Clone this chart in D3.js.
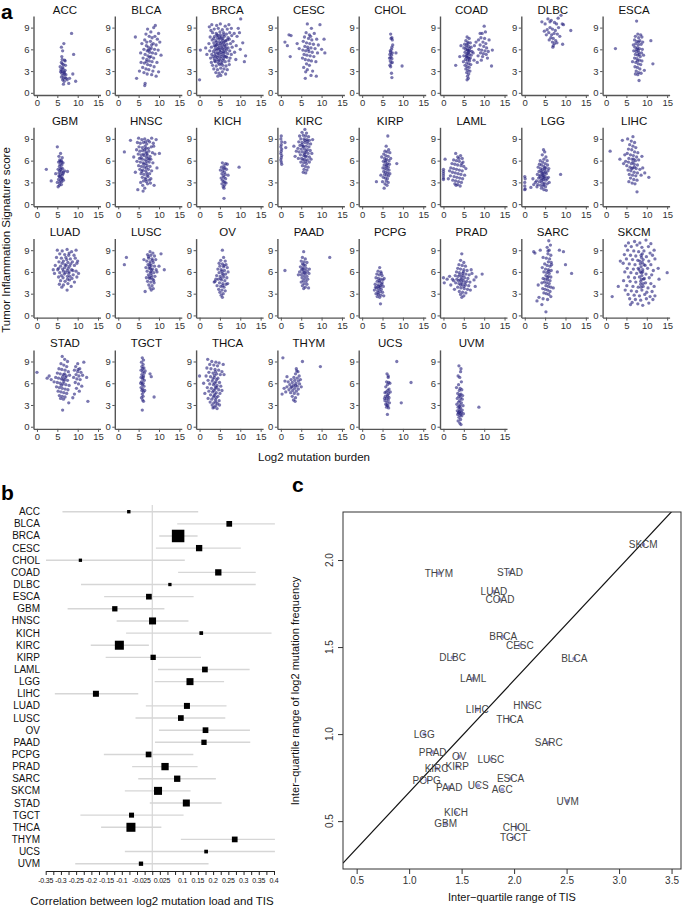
<!DOCTYPE html>
<html><head><meta charset="utf-8">
<script src="https://cdn.jsdelivr.net/npm/d3@7"></script>
<style>body{margin:0;background:#fff}svg{display:block}text{font-family:"Liberation Sans",Arial,Helvetica,sans-serif}</style>
</head><body><svg id="chart" width="685" height="909"></svg>
<script>
// ---------- DATA ----------
const cancers = ["ACC","BLCA","BRCA","CESC","CHOL","COAD","DLBC","ESCA","GBM","HNSC","KICH","KIRC","KIRP","LAML","LGG","LIHC","LUAD","LUSC","OV","PAAD","PCPG","PRAD","SARC","SKCM","STAD","TGCT","THCA","THYM","UCS","UVM"];
const aXTicks = [0,5,10,15];
const aYTicks = [0,3,6,9];

// panel a: [log2 mutation burden, TIS]
const ptsACC=[[6.2,4.6],[6.0,4.2],[6.5,3.9],[6.3,3.5],[5.9,3.2],[6.1,3.0],[6.6,2.8],[6.8,2.6],[6.4,2.4],[6.0,2.2],[6.9,2.1],[7.2,2.0],[6.3,1.8],[6.7,1.6],[6.5,1.2],[6.1,2.7],[5.8,2.9],[6.4,3.3],[7.0,3.8],[6.2,4.0],[6.8,4.5],[6.9,4.4],[6.1,5.0],[6.3,5.8],[6.6,6.8],[6.0,6.3],[6.7,2.9],[6.9,3.1],[7.4,1.8],[7.8,1.3],[8.0,2.0],[8.8,2.6],[9.5,1.6],[9.0,5.3],[8.5,8.2],[5.7,3.6],[6.5,2.0],[7.1,2.5]];
const ptsBLCA=[[7.2,8.8],[8.0,8.4],[8.7,9.0],[9.1,9.3],[6.8,8.1],[7.6,7.8],[8.3,7.6],[9.6,7.4],[10.2,7.0],[6.5,7.3],[7.0,7.0],[7.9,7.1],[8.6,6.8],[9.3,6.6],[6.9,6.5],[7.4,6.3],[8.1,6.2],[8.9,6.0],[9.8,5.9],[6.3,6.0],[7.1,5.8],[7.7,5.6],[8.4,5.5],[9.2,5.4],[6.6,5.3],[7.3,5.1],[8.0,5.0],[8.7,4.8],[6.1,4.8],[7.0,4.6],[7.6,4.4],[8.3,4.3],[9.5,4.2],[6.4,4.1],[7.2,3.9],[7.9,3.8],[8.8,3.6],[6.0,3.5],[6.8,3.3],[7.5,3.2],[8.5,3.0],[9.9,2.9],[6.3,2.8],[7.1,2.6],[8.2,2.5],[9.3,2.3],[5.2,3.0],[4.5,2.0],[6.6,1.3],[6.5,1.0],[4.2,7.7],[5.8,6.8],[5.5,5.5],[10.5,5.2],[9.9,8.2],[7.8,6.0],[7.4,5.9],[8.2,6.6],[7.7,4.9],[6.9,4.3],[5.6,4.2],[9.0,7.8]];
const ptsBRCA=[[3.0,9.4],[4.2,9.3],[5.1,9.5],[6.3,9.2],[7.2,9.4],[2.4,9.1],[3.6,8.8],[4.6,8.9],[5.6,8.7],[6.8,8.8],[7.8,8.9],[2.8,8.6],[3.2,8.3],[4.1,8.2],[5.0,8.4],[5.9,8.3],[6.6,8.1],[7.4,8.3],[8.5,8.2],[2.6,7.7],[3.7,7.8],[4.5,7.9],[5.3,7.7],[6.1,7.8],[7.0,7.6],[7.9,7.9],[9.2,7.8],[3.1,7.3],[4.0,7.2],[4.8,7.4],[5.6,7.3],[6.4,7.2],[7.3,7.4],[8.2,7.1],[2.3,6.8],[3.5,6.9],[4.3,6.7],[5.1,6.8],[5.9,6.9],[6.7,6.7],[7.6,6.8],[10.0,6.0],[1.5,6.2],[2.9,6.3],[3.9,6.4],[4.7,6.2],[5.4,6.3],[6.2,6.4],[7.0,6.2],[8.0,6.3],[9.0,6.5],[0.2,5.9],[2.5,5.8],[3.4,5.7],[4.2,5.9],[5.0,5.8],[5.8,5.7],[6.6,5.9],[7.4,5.8],[8.6,5.6],[1.8,5.3],[3.0,5.3],[3.8,5.2],[4.6,5.4],[5.3,5.3],[6.0,5.2],[6.9,5.4],[7.8,5.3],[2.7,4.8],[3.6,4.7],[4.4,4.9],[5.1,4.8],[5.9,4.7],[6.7,4.9],[7.5,4.8],[8.9,4.6],[2.9,4.2],[3.9,4.3],[4.7,4.4],[5.5,4.2],[6.3,4.3],[7.2,4.4],[11.0,4.3],[3.2,3.8],[4.1,3.7],[4.9,3.9],[5.7,3.8],[6.5,3.7],[7.3,3.9],[3.5,3.3],[4.4,3.2],[5.2,3.4],[6.0,3.3],[6.8,3.2],[4.0,2.8],[4.8,2.7],[5.6,2.9],[6.4,2.6],[5.2,2.4],[4.5,2.3],[0.0,1.8],[10.1,10.2],[9.5,8.9],[9.8,8.3],[11.3,5.1],[10.6,6.9],[3.8,6.0],[4.4,6.1],[5.0,6.0],[5.6,6.1],[6.0,6.0],[4.1,6.6],[4.8,6.5],[5.5,6.6],[6.1,6.6],[3.9,5.5],[4.5,5.5],[5.2,5.6],[5.8,5.5],[6.3,5.6],[4.0,5.0],[4.7,5.1],[5.4,5.0],[6.1,5.0],[4.3,4.6],[5.0,4.5],[5.7,4.5],[4.2,7.0],[4.9,7.0],[5.5,7.0],[6.2,7.1],[4.4,7.6],[5.0,7.6],[5.7,7.5],[3.6,6.5],[6.5,6.2],[3.3,5.0],[6.5,5.0],[4.6,4.1],[5.3,4.0],[5.1,8.0],[4.3,8.0],[5.9,8.0],[3.5,7.5],[6.8,7.3],[3.7,4.4]];
const ptsCESC=[[6.5,9.5],[7.5,8.9],[6.2,8.3],[7.0,8.0],[8.2,8.2],[9.6,9.4],[5.8,7.7],[6.8,7.5],[7.6,7.3],[8.8,7.4],[10.6,7.4],[5.5,7.1],[6.3,6.9],[7.1,6.8],[8.0,6.7],[9.2,6.6],[5.9,6.4],[6.6,6.3],[7.4,6.2],[8.4,6.1],[10.0,6.0],[5.4,5.9],[6.1,5.8],[6.9,5.7],[7.7,5.6],[9.0,5.5],[5.7,5.3],[6.4,5.2],[7.2,5.1],[8.1,5.0],[10.8,5.5],[5.3,4.8],[6.0,4.6],[6.8,4.5],[7.5,4.4],[8.6,4.3],[6.3,4.0],[7.0,3.8],[5.6,3.5],[6.5,3.2],[7.8,3.0],[6.1,2.9],[7.4,2.4],[6.0,2.0],[8.7,2.3],[1.0,7.0],[1.6,6.5],[2.0,8.0],[2.5,7.9],[2.3,5.0],[4.0,6.8],[4.5,6.1],[6.7,6.0],[7.3,7.8]];
const ptsCHOL=[[7.0,8.1],[7.3,7.6],[7.4,7.3],[7.1,7.5],[7.3,6.3],[7.2,6.0],[6.9,5.8],[7.0,5.6],[7.4,5.5],[6.8,5.3],[7.2,5.2],[7.0,4.9],[7.3,4.7],[6.9,4.4],[7.1,4.1],[6.8,3.8],[7.0,3.6],[7.4,4.2],[7.2,2.7],[7.3,2.1],[9.8,3.7],[8.3,5.5],[7.5,6.6],[6.7,4.8]];
const ptsCOAD=[[5.8,7.7],[6.3,7.5],[5.5,7.2],[6.0,7.0],[6.6,6.9],[5.2,6.7],[5.7,6.6],[6.2,6.4],[6.8,6.3],[5.0,6.2],[5.5,6.0],[6.0,5.9],[6.5,5.8],[7.0,5.7],[5.3,5.6],[5.8,5.4],[6.3,5.3],[6.8,5.2],[5.0,5.1],[5.6,5.0],[6.1,4.9],[6.6,4.8],[5.4,4.6],[5.9,4.5],[6.4,4.4],[4.9,4.3],[5.7,4.1],[6.2,4.0],[6.7,3.9],[5.3,3.8],[5.8,3.6],[6.3,3.5],[5.5,3.3],[6.0,3.1],[6.5,3.0],[5.7,2.8],[6.2,2.6],[5.9,2.3],[6.1,2.0],[5.8,1.8],[6.0,6.8],[5.9,5.9],[6.1,5.5],[5.7,5.2],[6.2,5.7],[5.6,6.3],[6.4,6.1],[6.3,4.7],[5.8,4.9],[7.3,5.5],[7.5,4.5],[7.6,6.5],[8.0,7.0],[3.0,3.8],[4.0,5.0],[4.3,6.5],[10.0,9.2],[10.3,8.4],[9.5,8.2],[9.2,7.6],[10.1,7.5],[11.2,7.3],[9.7,7.0],[10.4,6.8],[9.0,6.6],[9.9,6.4],[10.6,6.2],[8.7,6.0],[9.4,5.9],[10.2,5.8],[11.0,5.7],[9.1,5.5],[9.8,5.4],[10.5,5.3],[8.5,5.1],[9.6,5.0],[10.8,4.8],[9.3,4.5],[11.8,3.7],[8.3,4.2],[12.0,5.9],[9.0,8.2],[8.6,7.3]];
const ptsDLBC=[[4.2,9.8],[5.0,9.5],[5.7,10.2],[6.5,10.0],[7.3,9.7],[8.2,10.3],[8.9,10.7],[9.2,9.5],[4.8,8.5],[5.5,8.7],[6.2,9.0],[6.8,8.8],[7.5,8.6],[8.3,9.0],[9.5,9.4],[11.3,8.6],[5.9,8.3],[6.6,8.0],[7.2,8.2],[8.0,8.1],[8.6,7.8],[6.4,7.6],[7.0,7.5],[7.6,7.2],[6.8,7.0],[7.3,6.8],[7.0,6.5],[6.9,6.3],[7.9,6.9],[9.3,6.7],[5.3,8.0],[6.0,7.3],[7.8,9.5],[6.2,9.8]];
const ptsESCA=[[7.5,9.9],[7.8,8.1],[8.5,8.0],[7.2,7.8],[8.0,7.6],[8.8,7.7],[7.0,7.3],[7.6,7.1],[8.3,7.2],[9.0,7.0],[7.3,6.8],[7.9,6.6],[8.6,6.7],[7.1,6.3],[7.7,6.2],[8.2,6.1],[8.9,6.0],[6.8,5.8],[7.4,5.7],[8.0,5.6],[8.7,5.5],[7.2,5.3],[7.8,5.2],[8.4,5.0],[7.0,4.8],[7.6,4.7],[8.2,4.5],[8.8,4.4],[7.3,4.2],[7.9,4.0],[8.5,3.9],[7.1,3.6],[7.7,3.5],[8.3,3.3],[7.4,3.0],[8.0,2.8],[8.6,2.7],[7.2,2.6],[7.8,2.5],[8.1,1.7],[6.7,6.6],[6.5,4.3],[9.2,5.2],[9.4,3.1],[2.3,6.1],[11.5,4.0],[11.0,7.2],[8.0,7.0],[7.5,6.0],[8.1,5.3],[7.7,4.4],[7.9,5.9]];
const ptsGBM=[[5.0,7.9],[5.8,7.0],[5.4,6.6],[6.2,6.4],[5.6,6.1],[6.0,6.0],[5.3,5.8],[6.4,5.7],[5.7,5.5],[6.1,5.4],[5.5,5.2],[5.9,5.0],[6.3,4.9],[5.2,4.8],[5.6,4.6],[6.0,4.5],[6.5,4.4],[5.4,4.3],[5.8,4.1],[6.2,4.0],[5.5,3.8],[5.9,3.7],[6.3,3.5],[5.3,3.4],[5.7,3.2],[6.1,3.1],[6.5,3.3],[5.6,2.9],[6.0,2.7],[5.2,2.4],[5.5,2.6],[5.8,4.8],[6.1,5.8],[5.4,3.9],[7.5,4.5],[6.8,4.6],[5.0,3.0],[4.6,4.2],[2.3,4.8],[3.5,3.2],[6.0,3.5],[5.7,5.9],[6.4,4.2]];
const ptsHNSC=[[5.0,9.1],[5.8,8.9],[6.5,9.0],[7.3,8.8],[8.2,9.1],[4.7,8.5],[5.4,8.4],[6.2,8.5],[7.0,8.3],[7.7,8.6],[8.6,8.4],[5.1,7.9],[5.9,7.8],[6.6,8.0],[7.4,7.7],[8.1,7.9],[4.5,7.5],[5.3,7.3],[6.0,7.4],[6.8,7.2],[7.5,7.3],[8.4,7.1],[4.9,6.9],[5.6,6.8],[6.3,6.7],[7.1,6.8],[7.8,6.6],[9.0,6.9],[5.2,6.3],[5.9,6.2],[6.6,6.1],[7.3,6.3],[8.0,6.2],[4.6,5.9],[5.4,5.8],[6.1,5.7],[6.8,5.6],[7.6,5.8],[8.5,5.7],[5.0,5.3],[5.7,5.2],[6.4,5.1],[7.1,5.3],[7.8,5.2],[5.3,4.8],[6.0,4.7],[6.7,4.6],[7.4,4.8],[8.2,4.6],[5.6,4.2],[6.3,4.1],[7.0,4.3],[7.7,4.2],[5.9,3.7],[6.6,3.6],[7.3,3.8],[8.0,3.5],[6.2,3.2],[6.9,3.1],[7.6,3.3],[5.5,3.0],[7.2,2.8],[6.0,2.6],[6.5,2.2],[4.8,2.0],[6.1,1.8],[7.9,2.9],[8.8,2.6],[6.8,7.7],[6.9,6.5],[7.0,5.9],[6.9,5.0],[7.1,4.0],[6.8,3.4],[7.0,7.0],[6.7,8.6],[5.6,6.4],[6.3,5.5],[6.5,7.5],[7.6,6.2],[6.2,6.9],[5.8,4.5],[1.5,7.2],[3.0,8.8],[10.1,7.0],[9.3,8.9],[3.8,6.5],[4.2,4.4],[9.5,5.0],[8.7,8.0]];
const ptsKICH=[[5.6,5.7],[6.4,5.6],[6.0,5.3],[5.4,5.1],[6.2,5.0],[6.6,4.8],[5.7,4.6],[6.1,4.4],[5.5,4.2],[6.3,4.1],[5.8,3.9],[6.0,3.7],[5.3,3.6],[6.4,3.5],[5.6,3.3],[5.9,3.1],[6.2,3.0],[5.5,2.8],[6.1,2.6],[5.8,2.4],[6.0,2.2],[6.8,5.5],[7.0,4.0],[5.1,4.7],[6.5,2.9],[6.0,0.8],[9.7,5.1],[5.9,4.9]];
const ptsKIRC=[[0.1,9.4],[0.0,9.0],[0.2,8.6],[0.1,8.2],[0.0,7.9],[0.2,7.6],[0.1,7.3],[0.0,7.0],[0.2,6.7],[0.1,6.4],[0.0,6.1],[0.1,5.8],[0.2,5.5],[1.0,8.5],[1.2,7.8],[5.9,10.3],[5.2,9.9],[6.3,9.8],[4.6,9.4],[5.5,9.5],[6.1,9.4],[6.8,9.3],[4.9,9.0],[5.7,9.0],[6.4,8.9],[7.0,8.8],[4.4,8.6],[5.2,8.5],[5.9,8.5],[6.6,8.4],[7.3,8.3],[4.7,8.1],[5.5,8.0],[6.2,8.0],[6.9,7.9],[4.2,7.7],[5.0,7.6],[5.8,7.6],[6.5,7.5],[7.2,7.4],[4.5,7.2],[5.3,7.2],[6.0,7.1],[6.7,7.0],[4.8,6.8],[5.6,6.7],[6.3,6.6],[7.0,6.5],[4.3,6.3],[5.1,6.3],[5.8,6.2],[6.5,6.1],[7.4,6.2],[4.9,5.8],[5.6,5.7],[6.3,5.6],[7.0,5.8],[5.3,5.3],[6.0,5.2],[6.7,5.1],[5.7,4.8],[6.4,4.7],[5.5,4.4],[6.1,4.3],[3.5,6.6],[3.8,7.3],[3.2,8.0],[5.9,8.8],[6.0,6.6],[5.5,7.9],[6.2,7.3],[5.8,6.9],[5.2,8.2],[6.5,8.7],[5.4,6.1],[6.1,5.9],[7.6,7.0],[7.8,8.9]];
const ptsKIRP=[[6.3,9.4],[5.9,8.0],[6.5,7.5],[5.6,7.3],[6.1,7.2],[6.8,7.1],[5.3,6.9],[5.8,6.7],[6.4,6.6],[5.5,6.3],[6.0,6.2],[6.6,6.0],[5.2,5.9],[5.7,5.8],[6.2,5.6],[6.7,5.5],[5.4,5.4],[5.9,5.2],[6.4,5.1],[5.1,5.0],[5.6,4.9],[6.1,4.8],[6.6,4.7],[5.3,4.5],[5.8,4.4],[6.3,4.3],[5.5,4.1],[6.0,4.0],[6.5,3.9],[5.2,3.7],[5.7,3.6],[6.2,3.5],[5.9,3.2],[6.4,3.0],[5.6,2.8],[6.1,2.6],[5.4,2.2],[6.8,4.2],[7.0,6.3],[4.8,6.5],[4.6,4.0],[5.0,3.1],[3.5,3.1],[8.5,5.6],[6.0,5.4],[5.8,6.0]];
const ptsLAML=[[0.0,4.8],[0.0,4.5],[0.0,4.2],[0.0,3.9],[0.0,3.6],[0.0,3.4],[0.4,6.2],[3.0,7.0],[4.2,6.7],[3.5,6.5],[4.6,6.3],[2.5,6.1],[3.2,6.0],[3.9,5.9],[4.8,5.8],[2.1,5.6],[2.8,5.5],[3.5,5.4],[4.3,5.3],[5.0,5.2],[1.8,5.0],[2.5,4.9],[3.2,4.8],[3.9,4.7],[4.6,4.6],[2.2,4.4],[2.9,4.3],[3.6,4.2],[4.3,4.1],[5.2,4.0],[1.7,3.9],[2.6,3.8],[3.3,3.7],[4.0,3.6],[4.7,3.5],[2.3,3.3],[3.0,3.2],[3.7,3.1],[4.4,3.0],[2.8,2.8],[3.5,2.7],[4.1,2.5],[3.1,2.6],[1.5,4.6],[5.5,4.9],[1.2,3.5],[3.8,6.3],[4.5,5.6]];
const ptsLGG=[[4.6,7.5],[4.9,7.2],[4.3,6.8],[5.2,6.5],[4.7,6.2],[3.8,6.0],[5.5,6.0],[4.4,5.8],[5.0,5.6],[3.6,5.5],[4.1,5.4],[5.6,5.4],[4.7,5.2],[3.3,5.1],[5.2,5.0],[3.9,4.9],[4.4,4.8],[4.9,4.7],[5.7,4.6],[3.5,4.5],[4.2,4.4],[4.7,4.3],[5.3,4.2],[3.1,4.1],[3.8,4.0],[4.4,3.9],[5.0,3.8],[5.8,3.7],[3.4,3.6],[4.0,3.5],[4.6,3.4],[5.2,3.3],[2.9,3.2],[3.6,3.1],[4.2,3.0],[4.8,2.9],[5.5,2.8],[3.2,2.7],[3.9,2.6],[4.5,2.5],[5.1,2.4],[4.1,2.2],[4.7,2.0],[5.3,1.9],[3.0,2.4],[2.6,3.0],[2.2,2.7],[4.5,3.7],[4.8,3.6],[4.3,4.2],[4.6,4.0],[5.1,4.4],[4.0,4.6],[4.9,5.0],[4.2,3.3],[4.7,2.7],[3.7,3.8],[5.5,3.5],[5.9,4.9],[6.0,3.0],[0.0,3.8],[0.1,3.5],[0.0,3.0],[0.0,2.5],[0.1,2.1],[0.0,2.0],[1.5,2.3],[2.0,3.5],[8.8,4.1]];
const ptsLIHC=[[6.6,9.3],[5.3,9.0],[6.2,8.7],[7.0,8.5],[5.8,8.2],[6.6,8.0],[7.3,7.8],[5.5,7.6],[6.3,7.5],[7.0,7.2],[7.8,7.1],[5.2,7.0],[6.0,6.8],[6.7,6.7],[7.5,6.5],[5.6,6.3],[6.4,6.2],[7.2,6.0],[8.0,6.1],[4.8,5.9],[5.5,5.8],[6.2,5.6],[6.9,5.5],[7.7,5.4],[5.1,5.3],[5.9,5.1],[6.6,5.0],[7.4,4.9],[8.3,4.8],[5.4,4.7],[6.1,4.6],[6.9,4.4],[7.7,4.3],[5.7,4.1],[6.5,4.0],[7.3,3.9],[8.6,4.0],[6.0,3.6],[6.8,3.4],[7.6,3.3],[5.6,3.1],[6.4,2.9],[7.1,2.8],[7.6,1.7],[4.3,5.6],[4.6,6.8],[9.0,5.0],[9.5,4.3],[8.8,6.6],[1.0,7.3],[3.4,6.2],[4.0,8.8],[10.5,3.7],[6.6,5.8],[6.8,6.2],[6.3,4.9],[7.0,5.1]];
const ptsLUAD=[[5.0,9.0],[6.2,8.9],[7.4,9.1],[8.5,8.8],[9.6,9.0],[5.6,8.5],[6.8,8.4],[7.9,8.6],[9.1,8.3],[4.8,8.0],[6.0,7.9],[7.1,8.0],[8.2,7.8],[9.4,7.9],[5.4,7.4],[6.5,7.5],[7.6,7.3],[8.7,7.4],[9.8,7.2],[4.5,6.9],[5.8,6.8],[6.9,7.0],[8.0,6.8],[9.2,6.9],[5.1,6.3],[6.3,6.4],[7.4,6.2],[8.5,6.3],[9.6,6.1],[4.3,5.8],[5.6,5.9],[6.7,5.7],[7.8,5.8],[8.9,5.6],[5.3,5.3],[6.4,5.2],[7.5,5.4],[8.6,5.1],[9.8,5.3],[5.8,4.8],[6.9,4.7],[8.0,4.9],[9.2,4.6],[5.5,4.3],[6.5,4.2],[7.6,4.4],[8.4,4.0],[6.1,3.9],[7.4,3.5],[6.8,6.6],[7.2,6.9],[7.7,6.5],[8.3,7.1],[7.0,5.9],[7.9,6.0],[6.5,6.1],[8.1,5.4],[7.3,7.7],[6.2,7.2],[8.8,6.2],[7.5,5.0],[6.0,5.5],[10.0,7.5],[4.0,6.3],[10.2,5.8],[7.8,8.3],[5.3,6.5]];
const ptsLUSC=[[7.8,8.8],[8.5,8.6],[7.2,8.4],[8.0,8.3],[8.9,8.2],[7.5,7.9],[8.3,7.8],[9.2,7.7],[7.0,7.5],[7.8,7.4],[8.6,7.3],[7.3,7.0],[8.1,6.9],[8.9,6.8],[6.8,6.6],[7.6,6.5],[8.4,6.4],[9.3,6.3],[7.1,6.1],[7.9,6.0],[8.7,5.9],[7.4,5.6],[8.2,5.5],[9.0,5.4],[6.9,5.2],[7.7,5.1],[8.5,5.0],[7.2,4.7],[8.0,4.6],[8.8,4.5],[7.5,4.2],[8.3,4.1],[7.8,3.8],[8.6,3.7],[6.6,3.3],[8.1,3.5],[7.9,6.5],[8.0,5.8],[7.8,7.1],[8.2,6.2],[7.6,5.3],[8.4,7.6],[7.7,6.8],[8.1,5.2],[9.5,6.0],[10.5,8.5],[11.3,6.3],[10.0,6.8],[2.0,8.0],[1.5,7.0],[6.3,7.7],[7.4,8.1],[8.7,4.8]];
const ptsOV=[[5.6,9.0],[5.9,8.0],[5.2,7.6],[6.3,7.5],[4.8,7.2],[5.6,7.1],[6.5,7.0],[5.0,6.8],[5.9,6.7],[6.8,6.6],[4.5,6.4],[5.3,6.3],[6.1,6.2],[4.8,5.9],[5.6,5.8],[6.4,5.7],[4.2,5.5],[5.1,5.4],[5.9,5.3],[6.7,5.2],[4.6,5.0],[5.4,4.9],[6.2,4.8],[3.8,4.7],[4.9,4.5],[5.7,4.4],[6.5,4.3],[4.3,4.1],[5.2,4.0],[6.0,3.9],[4.7,3.6],[5.5,3.5],[6.3,3.4],[5.0,3.2],[5.8,3.0],[5.3,2.8],[5.6,2.5],[4.0,5.0],[3.6,4.6],[7.0,6.0],[6.9,4.4],[5.5,6.1],[5.8,5.6],[5.2,5.1],[6.0,6.9],[5.7,4.1]];
const ptsPAAD=[[5.6,8.8],[5.3,8.0],[6.0,7.8],[5.0,7.5],[5.7,7.4],[6.4,7.3],[5.3,7.1],[6.0,6.9],[4.8,6.7],[5.5,6.6],[6.2,6.5],[5.1,6.3],[5.8,6.2],[6.5,6.1],[4.6,6.0],[5.4,5.9],[6.1,5.8],[5.0,5.6],[5.7,5.5],[6.4,5.4],[5.2,5.2],[5.9,5.1],[6.6,5.0],[5.5,4.8],[6.2,4.7],[5.0,4.6],[5.7,4.4],[6.4,4.3],[5.3,4.1],[6.0,3.9],[5.6,3.7],[6.8,3.8],[7.0,6.4],[4.3,5.6],[5.6,7.0],[5.8,5.9],[5.4,6.4],[1.0,6.2],[12.0,8.0],[6.9,5.8]];
const ptsPCPG=[[4.3,6.6],[3.9,6.1],[4.6,6.0],[3.6,5.7],[4.2,5.6],[4.9,5.5],[3.4,5.2],[4.0,5.1],[4.6,5.0],[5.1,4.9],[3.7,4.7],[4.3,4.6],[4.9,4.5],[3.2,4.3],[3.9,4.2],[4.5,4.1],[5.2,4.0],[3.5,3.8],[4.1,3.7],[4.7,3.6],[3.0,3.5],[3.8,3.4],[4.4,3.3],[5.0,3.2],[3.4,3.0],[4.0,2.9],[4.6,2.8],[3.7,2.6],[4.3,2.5],[5.3,2.7],[4.5,1.6],[4.2,4.8],[4.0,4.0],[4.4,3.9],[3.9,3.1],[4.8,4.3],[3.3,3.9],[5.4,5.1],[4.7,5.8]];
const ptsPRAD=[[4.5,8.5],[4.2,7.6],[5.0,7.3],[3.8,7.0],[4.6,6.9],[5.4,6.8],[3.5,6.5],[4.2,6.4],[5.0,6.3],[5.8,6.2],[3.2,6.0],[3.9,5.9],[4.7,5.8],[5.5,5.7],[6.3,5.6],[2.9,5.5],[3.6,5.4],[4.4,5.3],[5.2,5.2],[6.0,5.1],[3.3,5.0],[4.1,4.9],[4.9,4.8],[5.7,4.7],[6.5,4.6],[3.0,4.5],[3.8,4.4],[4.6,4.3],[5.4,4.2],[6.2,4.1],[3.5,3.9],[4.3,3.8],[5.1,3.7],[5.9,3.6],[3.9,3.3],[4.7,3.2],[5.5,3.1],[4.2,2.9],[5.0,2.7],[4.5,2.5],[4.5,5.0],[4.8,5.5],[4.0,5.6],[5.3,4.5],[4.4,4.6],[4.9,6.0],[4.2,4.2],[5.0,4.0],[3.7,4.8],[2.2,5.0],[1.5,5.4],[0.9,5.0],[0.0,5.2],[0.2,4.5],[1.8,4.2],[2.5,4.8],[7.0,5.8],[7.5,4.9],[6.8,6.3],[7.8,4.0],[9.5,5.7],[8.0,5.3],[6.6,3.5],[2.7,3.6]];
const ptsSARC=[[5.9,10.3],[6.3,9.7],[5.5,9.4],[6.0,9.0],[2.2,8.8],[2.5,8.6],[5.7,8.5],[6.4,8.3],[4.5,8.0],[5.3,7.9],[6.1,7.8],[5.8,7.4],[6.5,7.3],[4.9,7.1],[5.5,6.9],[6.2,6.8],[4.3,6.6],[5.1,6.4],[5.8,6.3],[6.5,6.2],[4.7,6.0],[5.4,5.9],[6.0,5.8],[5.2,5.5],[5.8,5.4],[6.4,5.3],[4.5,5.1],[5.0,5.0],[5.6,4.9],[6.2,4.8],[4.8,4.6],[5.4,4.5],[6.0,4.4],[5.2,4.1],[5.8,4.0],[6.4,3.9],[4.4,3.7],[5.0,3.6],[5.6,3.5],[6.2,3.3],[4.7,3.1],[5.3,3.0],[5.9,2.9],[3.5,2.5],[4.5,2.3],[5.6,2.2],[6.4,2.6],[3.0,2.0],[4.2,1.5],[5.2,0.5],[6.6,7.0],[5.9,6.1],[5.6,5.2],[8.5,9.0],[9.5,8.8],[10.0,7.0],[8.0,6.0],[11.5,5.8],[3.8,9.0],[4.2,4.5],[3.3,4.2],[7.0,3.8],[5.7,8.9]];
const ptsSKCM=[[5.5,10.0],[7.0,10.2],[8.3,10.0],[9.8,10.4],[11.0,9.9],[4.8,9.6],[6.2,9.5],[7.6,9.7],[8.8,9.4],[10.4,9.5],[11.8,9.0],[5.3,9.0],[6.8,8.9],[8.0,8.8],[9.3,8.9],[10.8,8.6],[4.5,8.4],[6.0,8.3],[7.3,8.2],[8.6,8.3],[9.9,8.1],[11.4,8.3],[5.0,7.8],[6.5,7.7],[7.8,7.6],[9.1,7.7],[10.5,7.5],[12.0,7.8],[4.2,7.2],[5.7,7.1],[7.1,7.0],[8.4,7.1],[9.6,6.9],[11.0,7.0],[5.2,6.5],[6.7,6.4],[7.9,6.5],[9.0,6.3],[10.2,6.5],[11.6,6.2],[4.6,6.0],[6.1,5.9],[7.5,5.8],[8.7,5.9],[9.8,5.7],[11.2,5.6],[5.5,5.3],[7.0,5.2],[8.2,5.3],[9.4,5.1],[10.6,5.2],[4.3,4.8],[5.9,4.7],[7.3,4.6],[8.5,4.7],[9.7,4.5],[11.0,4.4],[5.1,4.1],[6.6,4.0],[7.9,3.9],[9.1,4.0],[10.3,3.8],[11.8,4.0],[4.7,3.5],[6.2,3.4],[7.5,3.3],[8.8,3.5],[10.0,3.2],[11.3,3.3],[5.4,2.9],[6.9,2.8],[8.2,2.7],[9.5,2.9],[10.8,2.6],[12.0,2.7],[5.8,2.3],[7.2,2.2],[8.5,2.1],[9.9,2.3],[11.5,2.2],[6.4,1.8],[7.8,1.6],[9.0,1.4],[10.5,1.7],[6.0,1.5],[8.7,8.0],[8.9,7.3],[8.6,6.7],[9.0,6.0],[8.8,5.5],[8.4,6.0],[9.2,5.0],[8.5,4.3],[8.9,8.5],[8.3,7.5],[9.3,7.0],[8.7,5.0],[8.1,6.3],[9.1,4.4],[8.6,3.9],[1.5,2.6],[15.0,5.9],[3.5,7.5],[3.0,4.0],[12.8,6.5],[13.0,5.0]];
const ptsSTAD=[[6.2,9.7],[6.8,9.3],[7.5,9.0],[5.9,8.7],[6.6,8.5],[7.3,8.3],[5.4,8.0],[6.1,7.9],[6.9,7.8],[7.7,7.6],[5.0,7.4],[5.7,7.3],[6.5,7.2],[7.2,7.0],[8.0,7.1],[4.6,6.8],[5.3,6.7],[6.0,6.6],[6.8,6.5],[7.5,6.4],[4.2,6.2],[5.0,6.1],[5.7,6.0],[6.4,5.9],[7.1,5.8],[7.9,5.7],[4.8,5.5],[5.5,5.4],[6.2,5.3],[6.9,5.2],[7.6,5.1],[5.2,4.9],[5.9,4.8],[6.6,4.7],[7.3,4.6],[5.5,4.3],[6.2,4.2],[6.9,4.1],[5.8,3.9],[6.5,3.8],[7.8,3.3],[6.3,2.3],[6.3,6.9],[6.6,6.2],[6.0,5.7],[6.8,7.3],[6.4,6.5],[7.0,6.8],[3.5,6.5],[2.5,6.7],[0.0,7.5],[3.0,7.0],[10.0,8.7],[9.5,8.3],[10.5,8.0],[11.5,8.9],[9.2,7.8],[10.0,7.6],[10.8,7.5],[9.6,7.2],[10.3,7.0],[11.2,7.1],[9.0,6.8],[9.8,6.6],[10.6,6.5],[12.2,6.8],[9.4,6.1],[10.2,5.9],[11.0,5.6],[9.7,5.3],[10.4,4.9],[9.2,4.5],[12.5,3.5],[8.8,4.0],[10.1,7.9]];
const ptsTGCT=[[5.9,9.5],[6.2,9.2],[5.7,8.9],[6.1,8.6],[5.8,8.3],[6.3,8.1],[5.6,7.8],[6.0,7.6],[6.4,7.4],[5.8,7.2],[6.2,7.0],[5.6,6.8],[6.0,6.6],[6.4,6.4],[5.7,6.2],[6.1,6.0],[5.9,5.8],[6.3,5.6],[5.6,5.4],[6.0,5.2],[5.8,5.0],[6.2,4.8],[5.9,4.5],[6.1,4.2],[5.7,4.0],[6.0,3.7],[6.2,3.5],[5.9,2.3],[6.5,5.0],[5.5,6.0],[6.6,7.7],[7.8,7.3],[8.1,6.9],[8.8,4.1],[6.0,8.0],[6.1,6.8]];
const ptsTHCA=[[2.0,9.3],[3.0,9.0],[4.0,8.9],[4.8,8.8],[2.5,8.6],[3.5,8.5],[4.4,8.4],[1.8,8.1],[2.8,8.0],[3.8,7.9],[4.7,7.8],[5.5,7.6],[2.3,7.5],[3.3,7.4],[4.2,7.3],[5.1,7.2],[1.6,7.0],[2.7,6.9],[3.6,6.8],[4.5,6.7],[2.1,6.4],[3.1,6.3],[4.0,6.2],[4.9,6.1],[2.5,5.9],[3.4,5.8],[4.3,5.7],[5.2,5.6],[1.9,5.4],[2.9,5.3],[3.8,5.2],[4.7,5.1],[2.3,4.9],[3.2,4.8],[4.1,4.7],[5.0,4.6],[2.7,4.4],[3.6,4.3],[4.5,4.2],[2.1,3.9],[3.0,3.8],[3.9,3.7],[4.8,3.6],[2.6,3.4],[3.5,3.3],[4.4,3.2],[3.1,3.0],[4.0,2.9],[4.9,3.0],[3.6,2.7],[4.3,2.5],[3.3,2.6],[3.7,6.0],[3.9,5.5],[3.5,5.0],[4.2,5.4],[3.8,4.5],[4.1,4.0],[3.4,4.1],[3.3,6.6],[4.2,6.5],[3.7,7.1],[4.0,3.4],[3.9,7.6],[0.0,7.0],[1.0,6.0],[1.3,4.6],[5.5,5.0],[6.0,7.2],[5.8,8.6]];
const ptsTHYM=[[3.8,8.0],[4.2,7.6],[3.6,7.3],[4.5,7.0],[3.2,6.8],[4.0,6.7],[2.5,6.5],[3.4,6.4],[4.3,6.3],[1.8,6.2],[2.8,6.1],[3.7,6.0],[4.6,5.9],[2.2,5.8],[3.1,5.7],[4.0,5.6],[1.5,5.5],[2.5,5.4],[3.4,5.3],[4.3,5.2],[2.0,5.1],[2.9,5.0],[3.8,4.9],[1.2,4.8],[2.4,4.7],[3.3,4.6],[4.2,4.5],[2.8,4.2],[3.6,4.0],[3.1,3.7],[3.5,3.5],[0.3,4.5],[0.8,5.3],[1.0,6.3],[1.5,6.9],[4.8,6.5],[5.0,5.5],[5.3,9.0],[3.9,7.7],[0.5,9.5],[9.7,8.3],[2.7,5.5],[3.6,5.7]];
const ptsUCS=[[6.1,7.3],[6.4,7.0],[6.0,6.2],[6.5,6.1],[6.8,6.0],[6.2,5.8],[5.8,5.5],[6.6,5.2],[6.3,5.0],[5.9,4.8],[6.5,4.6],[6.2,4.4],[5.7,4.2],[6.6,4.0],[6.0,3.9],[6.4,3.7],[5.6,3.6],[6.1,3.4],[6.7,3.3],[5.8,3.1],[6.3,2.9],[6.0,2.7],[6.5,2.6],[6.2,1.7],[5.5,3.9],[5.6,4.7],[6.9,4.8],[6.4,6.8],[8.5,9.0],[12.0,6.1],[9.6,3.3],[6.1,3.0],[6.3,4.2]];
const ptsUVM=[[3.8,8.4],[4.3,8.0],[4.2,7.6],[3.6,7.0],[4.0,6.8],[4.4,6.2],[3.7,5.8],[4.1,5.3],[4.5,5.1],[3.9,5.0],[3.5,4.6],[4.3,4.5],[4.7,4.3],[3.8,4.2],[4.2,4.0],[3.4,3.9],[4.6,3.8],[4.0,3.6],[3.7,3.4],[4.4,3.3],[3.3,3.1],[4.1,3.0],[4.8,2.9],[3.6,2.7],[4.2,2.6],[3.9,2.4],[4.6,2.3],[3.4,2.2],[4.0,2.1],[4.4,2.0],[3.7,1.9],[4.9,1.8],[3.5,1.7],[4.1,1.6],[4.5,1.5],[3.8,1.3],[4.2,1.0],[3.6,0.8],[4.0,0.5],[4.3,0.3],[3.9,2.8],[4.2,1.8],[3.8,2.0],[4.0,4.4],[3.2,5.4],[8.7,2.7]];
const scatterPts=[ptsACC,ptsBLCA,ptsBRCA,ptsCESC,ptsCHOL,ptsCOAD,ptsDLBC,ptsESCA,ptsGBM,ptsHNSC,ptsKICH,ptsKIRC,ptsKIRP,ptsLAML,ptsLGG,ptsLIHC,ptsLUAD,ptsLUSC,ptsOV,ptsPAAD,ptsPCPG,ptsPRAD,ptsSARC,ptsSKCM,ptsSTAD,ptsTGCT,ptsTHCA,ptsTHYM,ptsUCS,ptsUVM];

// panel b: correlation estimate, CI low, CI high, box weight
const corrEst=[-0.077,0.253,0.085,0.154,-0.236,0.217,0.058,-0.011,-0.123,0.001,0.161,-0.108,0.003,0.173,0.124,-0.185,0.114,0.094,0.175,0.170,-0.012,0.042,0.082,0.019,0.112,-0.068,-0.070,0.271,0.177,-0.037];
const corrLo=[-0.295,0.082,0.023,0.012,-0.349,0.085,-0.234,-0.158,-0.278,-0.117,-0.086,-0.202,-0.153,0.019,0.008,-0.320,-0.021,-0.055,0.022,0.009,-0.159,-0.066,-0.046,-0.090,-0.008,-0.236,-0.168,0.094,-0.090,-0.253];
const corrHi=[0.151,0.403,0.149,0.291,0.107,0.340,0.340,0.136,0.040,0.119,0.392,-0.011,0.160,0.320,0.236,-0.046,0.244,0.240,0.321,0.322,0.135,0.149,0.209,0.126,0.228,0.103,0.030,0.403,0.403,0.185];
const corrWeight=[3.4,5.7,12.5,6.3,3.3,6.3,3.3,5.7,5.3,7,3.7,9,5.3,5.7,7,6,6,5.7,5.7,5.3,5.7,7.3,6.3,8,7,5,9,5.7,3.7,4.3];
const bTickLabels=[-0.35,-0.3,-0.25,-0.2,-0.15,-0.1,-0.025,0.025,0.1,0.15,0.2,0.25,0.3,0.35,0.4];

// panel c: IQR of TIS, IQR of log2 mutation frequency
const iqrTIS=[1.887,2.573,1.896,2.055,2.024,1.865,1.414,1.966,1.348,2.128,1.446,1.262,1.458,1.61,1.144,1.649,1.808,1.779,1.477,1.382,1.167,1.224,2.33,3.23,1.96,1.995,1.96,1.284,1.658,2.51];
const iqrMut=[0.682,1.433,1.559,1.51,0.464,1.774,1.44,0.745,0.487,1.167,0.548,0.803,0.816,1.318,1.0,1.142,1.818,0.855,0.87,0.695,0.736,0.897,0.95,2.09,1.93,0.406,1.084,1.924,0.705,0.615];
const cXTicks=[0.5,1.0,1.5,2.0,2.5,3.0,3.5];
const cYTicks=[0.5,1.0,1.5,2.0];
const refLine=[0.02,0.645]; // intercept, slope

// ---------- DRAW ----------
const svg=d3.select("#chart");
const axisCol="#555";
function styleAxis(g,fs,col){
  g.select(".domain").attr("stroke",col).attr("stroke-width",1.4);
  g.selectAll(".tick line").attr("stroke",col);
  g.selectAll(".tick text").attr("fill","#333").attr("font-size",fs).attr("font-family","Liberation Sans, Arial, sans-serif");
}

// Panel letters
svg.append("text").attr("x",1).attr("y",19).attr("font-size",21).attr("font-weight","bold").text("a");
svg.append("text").attr("x",1).attr("y",500).attr("font-size",21).attr("font-weight","bold").text("b");
svg.append("text").attr("x",292).attr("y",492).attr("font-size",21).attr("font-weight","bold").text("c");

// Panel a
const colW=81.3,rowH=111.3,gx0=33.5;
cancers.forEach((c,i)=>{
  const col=i%8,row=Math.floor(i/8);
  const x0=gx0+col*colW, top=row*rowH;
  const xs=d3.scaleLinear().domain([-0.85,15.6]).range([x0,x0+67]);
  const ys=d3.scaleLinear().domain([-0.3,10.6]).range([top+95,top+16]);
  const gx=svg.append("g").attr("transform",`translate(0,${top+95})`)
    .call(d3.axisBottom(xs).tickValues(aXTicks).tickSize(3).tickSizeOuter(0).tickPadding(1.5));
  styleAxis(gx,9.5,axisCol);
  const gy=svg.append("g").attr("transform",`translate(${x0},0)`)
    .call(d3.axisLeft(ys).tickValues(aYTicks).tickSize(2.5).tickSizeOuter(0).tickPadding(1.5));
  styleAxis(gy,9.5,axisCol);
  svg.append("text").attr("x",x0+31.5).attr("y",top+13.5).attr("text-anchor","middle")
    .attr("font-size",11.5).attr("fill","#111").text(c);
  svg.append("g").selectAll("circle").data(scatterPts[i]).join("circle")
    .attr("cx",d=>xs(d[0])).attr("cy",d=>ys(d[1])).attr("r",1.65)
    .attr("fill","#28237f").attr("fill-opacity",0.62);
});
svg.append("text").attr("transform","translate(10,240) rotate(-90)").attr("text-anchor","middle")
  .attr("font-size",11.5).attr("fill","#111").text("Tumor Inflammation Signature score");
svg.append("text").attr("x",314).attr("y",461).attr("text-anchor","middle")
  .attr("font-size",11.5).attr("fill","#111").text("Log2 mutation burden");

// Panel b
const bx=d3.scaleLinear().domain([-0.35,0.4]).range([45.7,274]);
const by=d3.scalePoint().domain(cancers).range([511.7,863.7]);
const bsz=d3.scaleLinear().domain([0,10]).range([0,10]);
svg.append("line").attr("x1",bx(0)).attr("x2",bx(0)).attr("y1",505).attr("y2",871)
  .attr("stroke","#cfcfcf").attr("stroke-width",1);
const fg=svg.append("g");
fg.selectAll("line").data(cancers).join("line")
  .attr("x1",(d,i)=>bx(corrLo[i])).attr("x2",(d,i)=>bx(corrHi[i]))
  .attr("y1",d=>by(d)).attr("y2",d=>by(d)).attr("stroke","#d6d6d6").attr("stroke-width",1.4);
fg.selectAll("rect").data(cancers).join("rect")
  .attr("x",(d,i)=>bx(corrEst[i])-bsz(corrWeight[i])/2).attr("y",(d,i)=>by(d)-bsz(corrWeight[i])/2)
  .attr("width",(d,i)=>bsz(corrWeight[i])).attr("height",(d,i)=>bsz(corrWeight[i])).attr("fill","#000");
fg.selectAll("text").data(cancers).join("text")
  .attr("x",40).attr("y",d=>by(d)).attr("dy","0.35em").attr("text-anchor","end")
  .attr("font-size",10).attr("fill","#111").text(d=>d);
const minorB=d3.range(-14,17).map(k=>+(k*0.025).toFixed(3));
const gb=svg.append("g").attr("transform","translate(0,871)")
  .call(d3.axisBottom(bx).tickValues(minorB).tickSize(4).tickSizeOuter(0).tickFormat(()=>""));
gb.select(".domain").attr("stroke","#222").attr("stroke-width",1);
gb.selectAll(".tick line").attr("stroke","#222");
svg.append("g").selectAll("text").data(bTickLabels).join("text")
  .attr("x",d=>Math.abs(d)<0.05 ? bx(0)+(d<0?-1.5:1.5) : bx(d)).attr("y",883)
  .attr("text-anchor",d=>Math.abs(d)<0.05 ? (d<0?"end":"start") : "middle")
  .attr("font-size",7).attr("font-family","Liberation Sans Narrow, Liberation Sans, Arial").attr("fill","#111")
  .attr("letter-spacing",-0.2).text(d=>String(d));
svg.append("text").attr("x",152).attr("y",905).attr("text-anchor","middle")
  .attr("font-size",11.5).attr("fill","#111").text("Correlation between log2 mutation load and TIS");

// Panel c
const cx=d3.scaleLinear().domain([0.37,3.59]).range([343,681]);
const cy=d3.scaleLinear().domain([0.225,2.276]).range([869,512]);
svg.append("clipPath").attr("id","cclip").append("rect").attr("x",343).attr("y",512).attr("width",338).attr("height",357);
const lineX=[cx.domain()[0],cx.domain()[1]];
svg.append("line").attr("clip-path","url(#cclip)")
  .attr("x1",cx(lineX[0])).attr("y1",cy(refLine[0]+refLine[1]*lineX[0]))
  .attr("x2",cx(lineX[1])).attr("y2",cy(refLine[0]+refLine[1]*lineX[1]))
  .attr("stroke","#111").attr("stroke-width",1.2);
const gcx=svg.append("g").attr("transform","translate(0,869)")
  .call(d3.axisBottom(cx).tickValues(cXTicks).tickSize(5).tickSizeOuter(0).tickPadding(3).tickFormat(d3.format(".1f")));
gcx.select(".domain").remove();
gcx.selectAll(".tick line").attr("stroke","#333");
gcx.selectAll(".tick text").attr("font-size",10).attr("fill","#333");
const gcy=svg.append("g").attr("transform","translate(343,0)")
  .call(d3.axisLeft(cy).tickValues(cYTicks).tickSize(5).tickSizeOuter(0).tickFormat(""));
gcy.select(".domain").remove();
gcy.selectAll(".tick line").attr("stroke","#333");
svg.append("g").selectAll("text").data(cYTicks).join("text")
  .attr("transform",d=>`translate(333,${cy(d)}) rotate(-90)`).attr("text-anchor","middle")
  .attr("font-size",10).attr("fill","#333").text(d=>d3.format(".1f")(d));
svg.append("rect").attr("x",343).attr("y",512).attr("width",338).attr("height",357)
  .attr("fill","none").attr("stroke","#333").attr("stroke-width",1);
const cg=svg.append("g");
cg.selectAll("circle").data(cancers).join("circle")
  .attr("cx",(d,i)=>cx(iqrTIS[i])).attr("cy",(d,i)=>cy(iqrMut[i])).attr("r",2)
  .attr("fill","#9b9bd6");
cg.selectAll("text").data(cancers).join("text")
  .attr("x",(d,i)=>cx(iqrTIS[i])).attr("y",(d,i)=>cy(iqrMut[i])).attr("dy","0.35em")
  .attr("text-anchor","middle").attr("font-size",10).attr("fill","#444").text(d=>d);
svg.append("text").attr("transform","translate(299,691) rotate(-90)").attr("text-anchor","middle")
  .attr("font-size",11).attr("fill","#111").text("Inter\u2212quartile range of log2 mutation frequency");
svg.append("text").attr("x",512).attr("y",901).attr("text-anchor","middle")
  .attr("font-size",11).attr("fill","#111").text("Inter\u2212quartile range of TIS");
</script></body></html>
